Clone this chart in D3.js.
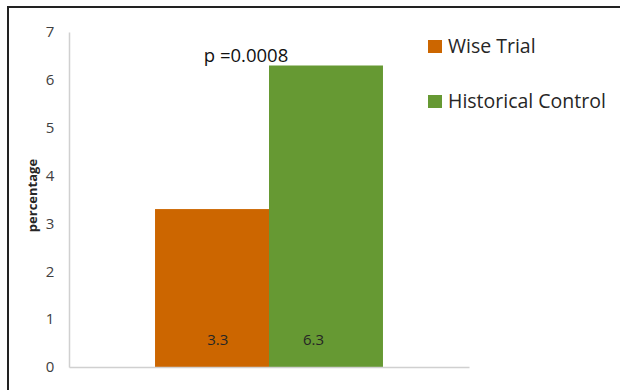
<!DOCTYPE html>
<html>
<head>
<meta charset="utf-8">
<script src="https://cdn.jsdelivr.net/npm/d3@7"></script>
<style>
  html, body { margin: 0; padding: 0; background: #fff; }
  svg { display: block; font-family: "Open Sans", "Noto Sans", sans-serif; }
</style>
</head>
<body>
<svg id="chart" width="620" height="390"></svg>
<script>
// ---- data ----
const categories = ["Outcome"];
const seriesNames = ["Wise Trial", "Historical Control"];
const seriesValues = [3.3, 6.3];
const seriesColors = ["#CC6600", "#669933"];
const yTicks = [0, 1, 2, 3, 4, 5, 6, 7];
const yLabel = "percentage";
const annotation = "p =0.0008";

// ---- layout ----
const svg = d3.select("#chart");
const plot = { left: 69, right: 469, top: 32, bottom: 367 };

const y = d3.scaleLinear().domain([0, 7]).range([plot.bottom, plot.top]);
const xCat = d3.scaleBand().domain(categories).range([plot.left, plot.right])
  .paddingInner(0.274).paddingOuter(0.274);
const xSeries = d3.scaleBand().domain(seriesNames).range([0, xCat.bandwidth()]).padding(0);

// frame (left + top lines)
svg.append("line").attr("x1", 8).attr("x2", 8).attr("y1", 6).attr("y2", 390)
  .attr("stroke", "#222").attr("stroke-width", 2);
svg.append("line").attr("x1", 7).attr("x2", 620).attr("y1", 7).attr("y2", 7)
  .attr("stroke", "#222").attr("stroke-width", 2);

// bars
const data = seriesNames.map((s, i) => ({ name: s, value: seriesValues[i], color: seriesColors[i] }));
const g = svg.append("g").attr("transform", `translate(${xCat(categories[0])},0)`);
g.selectAll("rect").data(data).join("rect")
  .attr("x", d => xSeries(d.name))
  .attr("y", d => y(d.value))
  .attr("width", xSeries.bandwidth())
  .attr("height", d => y(0) - y(d.value))
  .attr("fill", d => d.color);

// value labels (near base)
const labelShift = [0.05, -0.11];
g.selectAll("text.val").data(data).join("text")
  .attr("class", "val")
  .attr("x", (d, i) => xSeries(d.name) + xSeries.bandwidth() * (0.5 + labelShift[i]))
  .attr("y", y(0) - 22)
  .attr("text-anchor", "middle")
  .style("font-size", "15px")
  .attr("fill", "#262626")
  .text(d => d.value);

// y axis
const yAxis = d3.axisLeft(y).tickValues(yTicks).tickSize(0).tickPadding(19).tickFormat(d3.format("d"));
const ya = svg.append("g").attr("transform", `translate(${plot.left},0)`).call(yAxis);
ya.attr("font-size", null).attr("font-family", null);
ya.select(".domain").attr("stroke", "#d0d0d0").attr("stroke-width", 1.5);
ya.selectAll("text").style("font-size", "15px").attr("fill", "#404040")
  .attr("text-anchor", "middle");

// x axis baseline
const xa = svg.append("g").attr("transform", `translate(0,${plot.bottom})`)
  .call(d3.axisBottom(xCat).tickSize(0).tickFormat(""));
xa.select(".domain").attr("stroke", "#d0d0d0").attr("stroke-width", 1.5);

// y label
svg.append("text")
  .attr("transform", `translate(37,${(163 + 228) / 2}) rotate(-90)`)
  .attr("text-anchor", "middle")
  .style("font-size", "13px")
  .attr("font-weight", "bold")
  .attr("fill", "#262626")
  .text(yLabel);

// annotation
svg.append("text")
  .attr("x", 246).attr("y", 62)
  .attr("text-anchor", "middle")
  .style("font-size", "18.5px")
  .attr("fill", "#111")
  .text(annotation);

// legend
const legend = svg.append("g").attr("transform", "translate(428,40)");
const li = legend.selectAll("g").data(data).join("g")
  .attr("transform", (d, i) => `translate(0,${i * 55})`);
li.append("rect").attr("width", 14).attr("height", 13).attr("fill", d => d.color);
li.append("text").attr("x", 20).attr("y", 13)
  .style("font-size", "19.5px").attr("fill", "#262626")
  .text(d => d.name);
</script>
</body>
</html>
